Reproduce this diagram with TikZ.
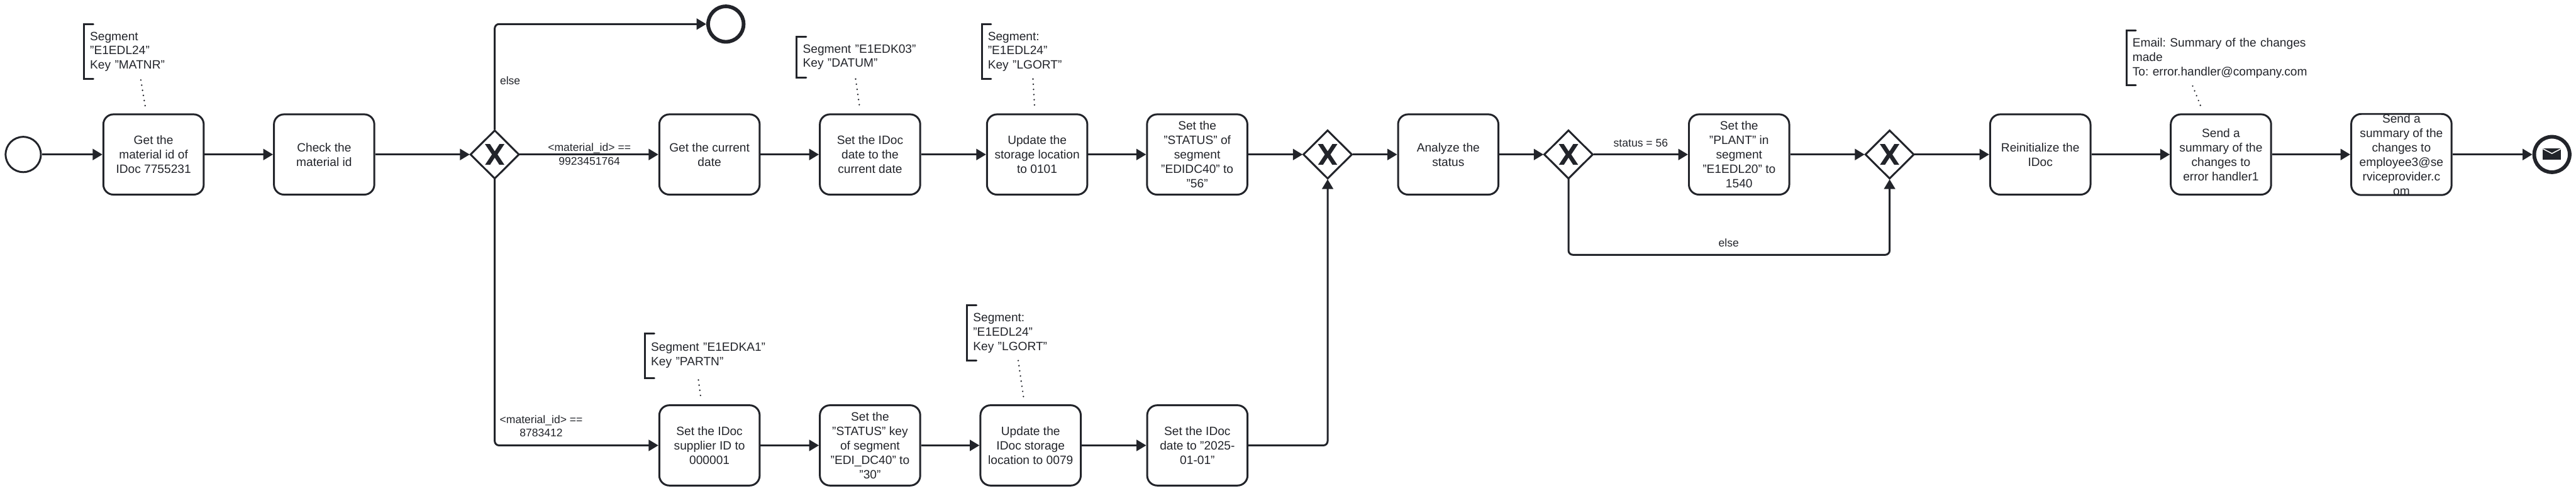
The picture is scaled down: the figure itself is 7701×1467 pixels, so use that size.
\documentclass[tikz,border=0pt]{standalone}
\usepackage{fontspec}
\setmainfont{Liberation Sans}
\usetikzlibrary{arrows.meta,calc,shapes.geometric}
\definecolor{ink}{HTML}{22242A}
\tikzset{
  x=1pt,y=-1pt,
  every node/.style={text=ink},
  task/.style={draw=ink,line width=5.6pt,fill=white,rounded corners=30pt,minimum width=300pt,minimum height=240pt,inner sep=0pt,align=center,font=\fontsize{36}{43.2}\selectfont},
  gateway/.style={draw=ink,line width=5.6pt,fill=white,shape=diamond,aspect=1,minimum width=146pt,minimum height=145pt,inner sep=0pt,outer sep=1.7pt},
  startev/.style={draw=ink,line width=5.6pt,fill=white,shape=circle,minimum size=105.5pt,inner sep=0pt},
  endev/.style={draw=ink,line width=11pt,fill=white,shape=circle,minimum size=106pt,inner sep=0pt},
  flow/.style={draw=ink,line width=5.6pt,rounded corners=13pt},
  arrowed/.style={flow,-{Triangle[length=29pt,width=33pt]}},
  assoc/.style={draw=ink,line width=5pt,line cap=round,dash pattern=on 0pt off 15.5pt},
  bracketline/.style={draw=ink,line width=5.6pt,line cap=round},
  flowlabel/.style={inner sep=0pt,align=center,font=\fontsize{33}{39.6}\selectfont},
  note/.style={anchor=north west,inner ysep=0pt,inner xsep=18pt,align=left,font=\fontsize{36}{43.2}\selectfont},
}
\newcommand{\gatewayX}[1]{\fill[ink,shift={(#1.center)}] (-29,-31) -- (-14,-31) -- (0,-9.5) -- (14,-31) -- (29,-31) -- (8.3,0) -- (29,31) -- (14,31) -- (0,9.5) -- (-14,31) -- (-29,31) -- (-8.3,0) -- cycle;}
% name, left, top, bottom, width, text
\newcommand{\annotation}[6]{%
  \node[note,minimum height=#4pt-#3pt,text width=#5pt-36pt] (#1) at (#2,#3) {#6};
  \draw[bracketline] ($(#1.north west)+(28,0)$) -- (#1.north west) -- (#1.south west) -- ($(#1.south west)+(28,0)$);}
\begin{document}
\frenchspacing
\begin{tikzpicture}
\useasboundingbox (0,0) rectangle (7701,1467);
% events
\node[startev] (s) at (69.5,462) {};
\node[endev] (e1) at (2170,72) {};
\node[endev] (e2) at (7629,462) {};
% top row
\node[task] (b1) at (459,462) {Get the\\material id of\\IDoc 7755231};
\node[task] (b2) at (969,462) {Check the\\material id};
\node[gateway] (g1) at (1479,462) {};
\node[task] (b3) at (2121,462) {Get the current\\date};
\node[task] (b4) at (2601,462) {Set the IDoc\\date to the\\current date};
\node[task] (b5) at (3100.5,462) {Update the\\storage location\\to 0101};
\node[task] (b6) at (3579,462) {Set the\\"STATUS" of\\segment\\"EDIDC40" to\\"56"};
\node[gateway] (g2) at (3969,462) {};
\node[task] (b7) at (4329.5,462) {Analyze the\\status};
\node[gateway] (g3) at (4689,462) {};
\node[task] (b8) at (5199,462) {Set the\\"PLANT" in\\segment\\"E1EDL20" to\\1540};
\node[gateway] (g4) at (5649,462) {};
\node[task] (b9) at (6099.5,462) {Reinitialize the\\IDoc};
\node[task] (b10) at (6639.5,462) {Send a\\summary of the\\changes to\\error handler1};
\node[task] (b11) at (7179,462) {Send a\\summary of the\\changes to\\employee3@se\\rviceprovider.c\\om};
% bottom row
\node[task] (b12) at (2121,1332) {Set the IDoc\\supplier ID to\\000001};
\node[task] (b13) at (2601,1332) {Set the\\"STATUS" key\\of segment\\"EDI\_DC40" to\\"30"};
\node[task] (b14) at (3081,1332) {Update the\\IDoc storage\\location to 0079};
\node[task] (b15) at (3579.5,1332) {Set the IDoc\\date to "2025-\\01-01"};
\coordinate (elsepoint) at (5168,762);
% gateway markers
\gatewayX{g1}\gatewayX{g2}\gatewayX{g3}\gatewayX{g4}
% mail marker
\fill[ink] (7602,443) rectangle (7656,478);
\draw[white,line width=2.8pt] (7602,445) -- (7629,459) -- (7656,445);
% sequence flows
\draw[arrowed] (s) -- (b1);
\draw[arrowed] (b1) -- (b2);
\draw[arrowed] (b2) -- (g1);
\draw[arrowed] (g1.north) |- (e1.west);
\draw[arrowed] (g1.east) -- (b3);
\draw[arrowed] (g1.south) |- (b12.west);
\draw[arrowed] (b3) -- (b4);
\draw[arrowed] (b4) -- (b5);
\draw[arrowed] (b5) -- (b6);
\draw[arrowed] (b6) -- (g2.west);
\draw[arrowed] (g2.east) -- (b7);
\draw[arrowed] (b7) -- (g3.west);
\draw[arrowed] (g3.east) -- (b8);
\draw[arrowed] (b8) -- (g4.west);
\draw[arrowed] (g4.east) -- (b9);
\draw[arrowed] (b9) -- (b10);
\draw[arrowed] (b10) -- (b11);
\draw[arrowed] (b11) -- (e2.west);
\draw[arrowed] (b12) -- (b13);
\draw[arrowed] (b13) -- (b14);
\draw[arrowed] (b14) -- (b15);
\draw[arrowed] (b15.east) -| (g2.south);
\draw[arrowed] (g3.south) |- (elsepoint) -| (g4.south);
% flow labels
\node[flowlabel] (l1) at (1525,241) {else};
\node[flowlabel] (l2) at (1762,461) {<material\_id> ==\\9923451764};
\node[flowlabel] (l3) at (1618,1274) {<material\_id> ==\\8783412};
\node[flowlabel] (l4) at (4905,427) {status = 56};
\node[flowlabel] (l5) at (5168,727) {else};
% annotations
\annotation{n1}{251}{73}{236}{340}{Segment\\"E1EDL24"\\Key "MATNR"}
\annotation{n2}{2382}{110}{231}{390}{Segment "E1EDK03"\\Key "DATUM"}
\annotation{n3}{2935}{73}{236}{306}{Segment:\\"E1EDL24"\\Key "LGORT"}
\annotation{n4}{1928}{997}{1130}{400}{Segment "E1EDKA1"\\Key "PARTN"}
\annotation{n5}{2891}{913}{1077}{306}{Segment:\\"E1EDL24"\\Key "LGORT"}
\annotation{n6}{6357}{91}{255}{570}{Email: Summary of the changes\\made\\To: error.handler@company.com}
\draw[assoc] ($(n1.south west)+(170,3)$) -- ($(b1.north)+(-23,-11)$);
\draw[assoc] ($(n2.south west)+(176,5)$) -- ($(b4.north)+(-30,-11)$);
\draw[assoc] ($(n3.south west)+(153,0)$) -- ($(b5.north)+(-7,-11)$);
\draw[assoc] ($(n4.south west)+(160,6)$) -- ($(b12.north)+(-25,-12)$);
\draw[assoc] ($(n5.south west)+(153,1)$) -- ($(b14.north)+(-20,-13)$);
\draw[assoc] ($(n6.south west)+(198,2)$) -- ($(b10.north)+(-56,-11)$);
\end{tikzpicture}
\end{document}
